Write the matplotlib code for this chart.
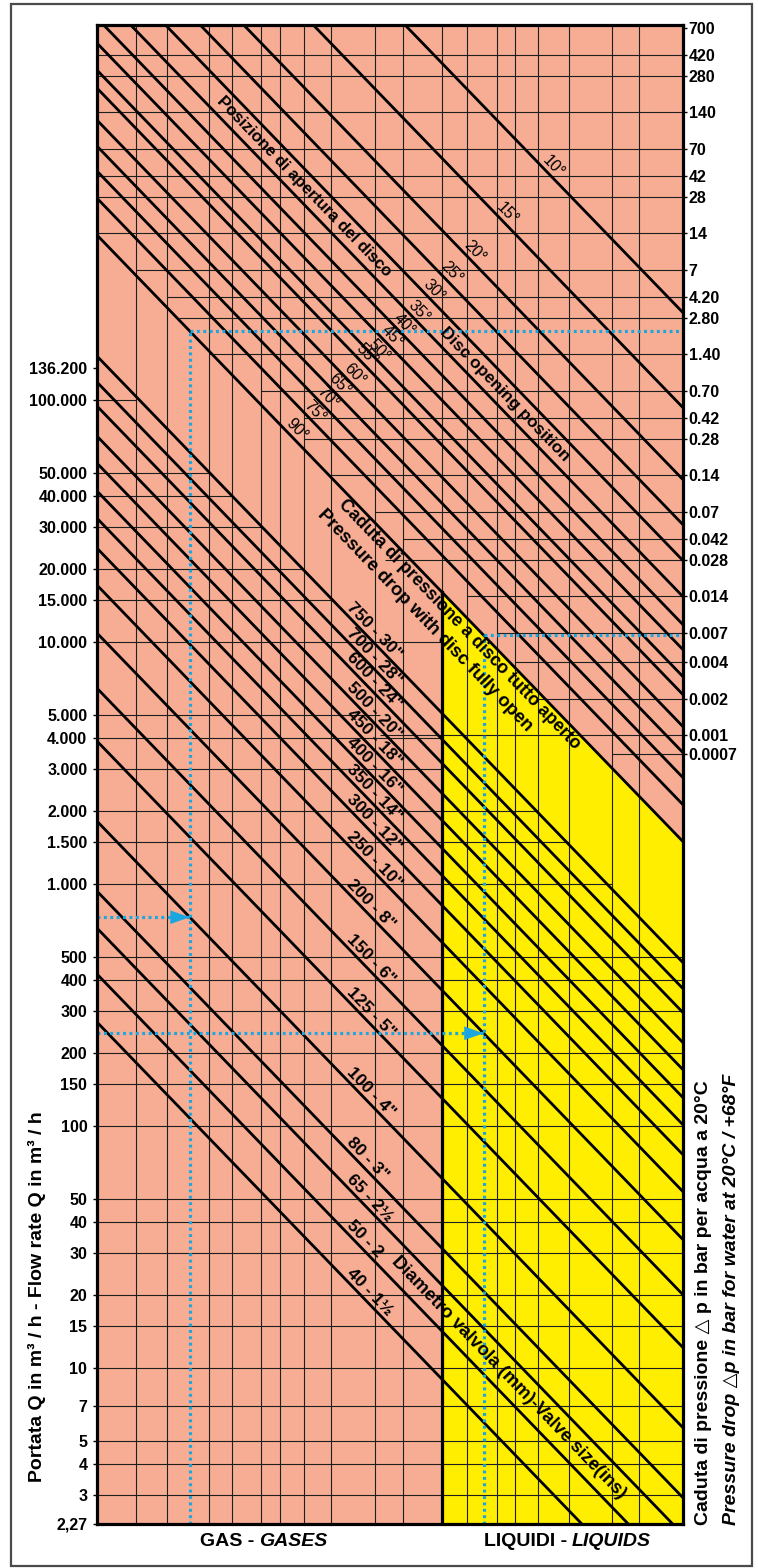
import numpy as np
import matplotlib
matplotlib.use('Agg')
import matplotlib.pyplot as plt
from matplotlib import font_manager
from matplotlib.patches import Rectangle

# ---------------- data ----------------
# Left scale: flow rate Q (m3/h), logarithmic
Q_MIN, Q_MAX = 2.27, 3.55e6
Q_TICKS = [2.27, 3, 4, 5, 7, 10, 15, 20, 30, 40, 50, 100, 150, 200, 300, 400, 500,
           1000, 1500, 2000, 3000, 4000, 5000, 10000, 15000, 20000, 30000, 40000,
           50000, 100000, 136200]
Q_LABELS = ['2,27', '3', '4', '5', '7', '10', '15', '20', '30', '40', '50', '100', '150',
            '200', '300', '400', '500', '1.000', '1.500', '2.000', '3.000', '4.000',
            '5.000', '10.000', '15.000', '20.000', '30.000', '40.000', '50.000',
            '100.000', '136.200']

# Right scale: pressure drop dp (bar), dp = (Q / Q_DP1)^2
Q_DP1 = 130600.0
DP_TICKS = [700, 420, 280, 140, 70, 42, 28, 14, 7, 4.2, 2.8, 1.4, 0.7, 0.42, 0.28, 0.14,
            0.07, 0.042, 0.028, 0.014, 0.007, 0.004, 0.002, 0.001, 0.0007]
DP_LABELS = ['700', '420', '280', '140', '70', '42', '28', '14', '7', '4.20', '2.80', '1.40',
             '0.70', '0.42', '0.28', '0.14', '0.07', '0.042', '0.028', '0.014', '0.007',
             '0.004', '0.002', '0.001', '0.0007']

# Disc opening lines: flow rate where each line meets the left edge (x = 0)
ANGLE_NAMES = ['10°', '15°', '20°', '25°', '30°', '35°', '40°', '45°', '50°', '55°',
               '60°', '65°', '70°', '75°', '90°']
ANGLE_Q0 = [7.375e7, 2.987e7, 1.506e7, 9.81e6, 6.97e6, 4.945e6, 3.79e6, 2.987e6,
            2.31e6, 1.947e6, 1.436e6, 1.121e6, 8.84e5, 6.83e5, 4.81e5]

# Valve size lines: flow rate where each line meets the left edge (x = 0)
VALVE_NAMES = ['750 - 30"', '700 - 28"', '600 - 24"', '500 - 20"', '450 - 18"',
               '400 - 16"', '350 - 14"', '300 - 12"', '250 - 10"', '200 - 8"',
               '150 - 6"', '125 - 5"', '100 - 4"', '80 - 3"', '65 - 2½', '50 - 2',
               '40 - 1½']
VALVE_Q0 = [1.52e5, 1.187e5, 9.45e4, 7.10e4, 5.49e4, 4.21e4, 3.25e4, 2.445e4, 1.72e4,
            1.09e4, 6.45e3, 3.90e3, 1.82e3, 935, 658, 425, 269]

SLOPE = -1.035           # decades of Q per unit of the (hidden) horizontal scale
X_MAX = 2.4215           # width of the chart in horizontal units
X_LIQ = 1.426            # start of the liquids zone
X_GRID = [0.161, 0.289, 0.463, 0.558, 0.678, 0.756, 0.855, 0.967, 1.149, 1.264,
          1.426, 1.529, 1.653, 1.727, 1.822, 1.950, 2.128, 2.240]

# Partial horizontal rulings (value, from x, to x)
Q_RULES = [(100000, 0, 0.161), (50000, 0, 0.463), (40000, 0, 0.558), (30000, 0, 0.678),
           (20000, 0, 0.855), (15000, 0, 0.967), (10000, 0, 1.426), (5000, 0, 1.169),
           (4000, 0, 1.426), (3000, 0, 1.426), (2000, 0, 1.822), (1500, 0, 1.950),
           (1000, 0, 2.128), (500, 0, X_MAX), (400, 0, X_MAX), (300, 0, X_MAX),
           (200, 0, X_MAX), (150, 0, X_MAX), (100, 0, X_MAX), (50, 0, X_MAX),
           (40, 0, X_MAX), (30, 0, X_MAX), (20, 0, X_MAX), (15, 0, X_MAX),
           (10, 0, X_MAX), (7, 0, X_MAX), (5, 0, X_MAX), (4, 0, X_MAX), (3, 0, X_MAX)]
DP_RULES = [(420, 0, X_MAX), (280, 0, X_MAX), (140, 0, X_MAX), (70, 0, X_MAX),
            (42, 0, X_MAX), (28, 0, X_MAX), (14, 0, X_MAX), (7, 0.161, X_MAX),
            (4.2, 0.289, X_MAX), (2.8, 0.339, X_MAX), (1.4, 0.463, X_MAX),
            (0.7, 0.678, X_MAX), (0.42, 0.855, X_MAX), (0.28, 0.855, X_MAX),
            (0.14, 0.967, X_MAX), (0.07, 1.149, X_MAX), (0.042, 1.264, X_MAX),
            (0.028, 1.190, X_MAX), (0.014, 1.529, X_MAX), (0.007, 1.653, X_MAX),
            (0.004, 1.727, X_MAX), (0.002, 1.822, X_MAX), (0.001, 1.169, X_MAX),
            (0.0007, 2.128, X_MAX)]

# Worked examples (blue dotted paths)
EX_Q = [730, 242]
EX_VALVE = ['100 - 4"', '200 - 8"']
EX_ANGLE = ['90°', '90°']

# label placement along the lines (horizontal units)
ANGLE_LABEL_X = [1.826, 1.636, 1.500, 1.405, 1.331, 1.273, 1.211, 1.161, 1.107,
                 1.054, 1.004, 0.942, 0.893, 0.839, 0.764]
VALVE_LABEL_X = 1.017

# ---------------- style ----------------
PINK = '#F6AD94'
YELLOW = '#FFEE00'
BLUE = '#1BA6E0'
GRID = '#1e1e1e'
names = {f.name for f in font_manager.fontManager.ttflist}
HAS_NARROW = 'Liberation Sans Narrow' in names
NARROW = ['Liberation Sans Narrow', 'Liberation Sans', 'DejaVu Sans'] if HAS_NARROW else ['Liberation Sans', 'DejaVu Sans']
SANS = ['Liberation Sans', 'DejaVu Sans']
plt.rcParams['font.family'] = SANS
NUM_SIZE = 13.5 if HAS_NARROW else 11.5

W, H = 758, 1568


def fx(px):
    return px / W


def fy(py):
    return 1 - py / H


fig = plt.figure(figsize=(W / 100, H / 100), dpi=100)
fig.patches.append(Rectangle((fx(11), fy(1566)), fx(752) - fx(11), fy(4) - fy(1566),
                             transform=fig.transFigure, fill=False,
                             edgecolor='#4a4a4a', lw=1.6))

L, R, T, B = 97, 683, 25, 1524
ax = fig.add_axes([fx(L), fy(B), fx(R) - fx(L), fy(T) - fy(B)])
ax.set_xlim(0, X_MAX)
ax.set_yscale('log')
ax.set_ylim(Q_MIN, Q_MAX)
ax.set_facecolor(PINK)


def on_line(q0, x):
    return 10 ** (np.log10(q0) + SLOPE * np.asarray(x))


def q_of_dp(dp):
    return Q_DP1 * np.sqrt(dp)


q90 = ANGLE_Q0[ANGLE_NAMES.index('90°')]

# liquid zone
xs = np.linspace(X_LIQ, X_MAX, 60)
ax.fill_between(xs, Q_MIN, on_line(q90, xs), color=YELLOW, lw=0, zorder=1)

# rulings
ax.vlines(X_GRID, Q_MIN, Q_MAX, colors=GRID, lw=0.8, zorder=2)
for v, a, b in Q_RULES:
    ax.hlines(v, a, b, colors=GRID, lw=0.8, zorder=2)
for v, a, b in DP_RULES:
    ax.hlines(q_of_dp(v), a, b, colors=GRID, lw=0.8, zorder=2)

# diagonal lines
xl = np.array([0, X_MAX])
for q0 in ANGLE_Q0 + VALVE_Q0:
    ax.plot(xl, on_line(q0, xl), color='black', lw=2.0, zorder=3,
            solid_capstyle='butt')
ax.plot([X_LIQ, X_LIQ], [Q_MIN, on_line(q90, X_LIQ)], color='black', lw=2.3, zorder=3)

# worked examples
DOT = (0, (0.9, 1.1))
for q, v, a in zip(EX_Q, EX_VALVE, EX_ANGLE):
    qv = VALVE_Q0[VALVE_NAMES.index(v)]
    xv = (np.log10(qv) - np.log10(q)) / (-SLOPE)
    qa = on_line(ANGLE_Q0[ANGLE_NAMES.index(a)], xv)
    ax.plot([0, xv], [q, q], ls=DOT, color=BLUE, lw=2.3, zorder=4)
    ax.plot([xv, xv], [Q_MIN, qa], ls=DOT, color=BLUE, lw=2.3, zorder=4)
    ax.plot([xv, X_MAX], [qa, qa], ls=DOT, color=BLUE, lw=2.3, zorder=4)
    ax.annotate('', xy=(xv, q), xytext=(xv - 0.075, q),
                arrowprops=dict(arrowstyle='-|>,head_length=1.0,head_width=0.35',
                                color=BLUE, lw=0, shrinkA=0, shrinkB=0,
                                mutation_scale=14), zorder=5)

# axis ticks
ax.set_xticks([])
ax.set_yticks(Q_TICKS)
ax.set_yticklabels(Q_LABELS)
ax.yaxis.set_minor_locator(matplotlib.ticker.NullLocator())
ax.tick_params(axis='y', direction='out', length=3, width=1, pad=4)
for lab in ax.get_yticklabels():
    lab.set_fontfamily(NARROW)
    lab.set_fontweight('bold')
    lab.set_fontsize(NUM_SIZE)
for s in ax.spines.values():
    s.set_linewidth(2.3)
    s.set_zorder(6)

ax2 = ax.twinx()
ax2.set_yscale('log')
ax2.set_ylim((Q_MIN / Q_DP1) ** 2, (Q_MAX / Q_DP1) ** 2)
ax2.set_yticks(DP_TICKS)
ax2.set_yticklabels(DP_LABELS)
ax2.yaxis.set_minor_locator(matplotlib.ticker.NullLocator())
ax2.tick_params(axis='y', direction='out', length=3, width=1, pad=1)
for lab in ax2.get_yticklabels():
    lab.set_fontfamily(NARROW)
    lab.set_fontweight('bold')
    lab.set_fontsize(NUM_SIZE)
for s in ax2.spines.values():
    s.set_visible(False)

# angle of the diagonals on screen
p0 = ax.transData.transform((0.0, 1e3))
p1 = ax.transData.transform((1.0, on_line(1e3, 1.0)))
ang = np.degrees(np.arctan2(p1[1] - p0[1], p1[0] - p0[0]))
nx, ny = -np.sin(np.radians(ang)), np.cos(np.radians(ang))   # normal, pointing up-right


def off(px):
    return (nx * px * 0.72, ny * px * 0.72)


for name, q0, xlab in zip(ANGLE_NAMES, ANGLE_Q0, ANGLE_LABEL_X):
    ax.annotate(name, xy=(xlab, on_line(q0, xlab)), xytext=off(1.0),
                textcoords='offset points', rotation=ang, rotation_mode='anchor',
                ha='left', va='bottom', fontsize=11.5, family=SANS, zorder=5)

for name, q0 in zip(VALVE_NAMES, VALVE_Q0):
    ax.annotate(name, xy=(VALVE_LABEL_X, on_line(q0, VALVE_LABEL_X)), xytext=off(1.0),
                textcoords='offset points', rotation=ang, rotation_mode='anchor',
                ha='left', va='bottom', fontsize=12.5, fontweight='bold',
                family=SANS, zorder=5)


def gap_text(txt, x, qa, qb, size, weight='bold'):
    y = np.sqrt(on_line(qa, x) * on_line(qb, x))
    ax.annotate(txt, xy=(x, y), rotation=ang, rotation_mode='anchor', ha='center',
                va='center', fontsize=size, fontweight=weight, family=SANS, zorder=5)


def below_text(txt, x, q0, dist, size, weight='bold'):
    ax.annotate(txt, xy=(x, on_line(q0, x)), xytext=off(-dist), textcoords='offset points',
                rotation=ang, rotation_mode='anchor', ha='center', va='center',
                fontsize=size, fontweight=weight, family=SANS, zorder=5)


q30 = ANGLE_Q0[ANGLE_NAMES.index('30°')]
q35 = ANGLE_Q0[ANGLE_NAMES.index('35°')]
gap_text('Posizione di apertura del disco', 0.855, q30, q35, 12)
gap_text('Disc opening position', 1.686, q30, q35, 12.3)
below_text('Caduta di pressione a disco tutto aperto', 1.525, q90, 10, 12.8)
below_text('Pressure drop with disc fully open', 1.451, q90, 32, 13.3)
gap_text('Diametro valvola (mm)-Valve size(ins)', 1.702,
         VALVE_Q0[VALVE_NAMES.index('65 - 2½')], VALVE_Q0[VALVE_NAMES.index('50 - 2')], 13.3)

# axis titles
fig.text(fx(37), fy(1297), 'Portata Q in m³ / h - Flow rate Q in m³ / h', rotation=90,
         ha='center', va='center', fontsize=14, fontweight='bold', family=SANS)
fig.text(fx(703), fy(1525), 'Caduta di pressione △ p in bar per acqua a 20°C',
         rotation=90, rotation_mode='anchor', ha='left', va='center', fontsize=14,
         fontweight='bold', family=SANS)
fig.text(fx(732), fy(1525), 'Pressure drop △p in bar for water at 20°C / +68°F',
         rotation=90, rotation_mode='anchor', ha='left', va='center', fontsize=14,
         fontweight='bold', fontstyle='italic', family=SANS)
fig.text(fx(254), fy(1541), 'GAS -', ha='right', va='center', fontsize=14,
         fontweight='bold', family=SANS)
fig.text(fx(259), fy(1541), 'GASES', ha='left', va='center', fontsize=14,
         fontweight='bold', fontstyle='italic', family=SANS)
fig.text(fx(567), fy(1541), 'LIQUIDI -', ha='right', va='center', fontsize=14,
         fontweight='bold', family=SANS)
fig.text(fx(572), fy(1541), 'LIQUIDS', ha='left', va='center', fontsize=14,
         fontweight='bold', fontstyle='italic', family=SANS)

fig.savefig('out.png', dpi=100, facecolor='white')
